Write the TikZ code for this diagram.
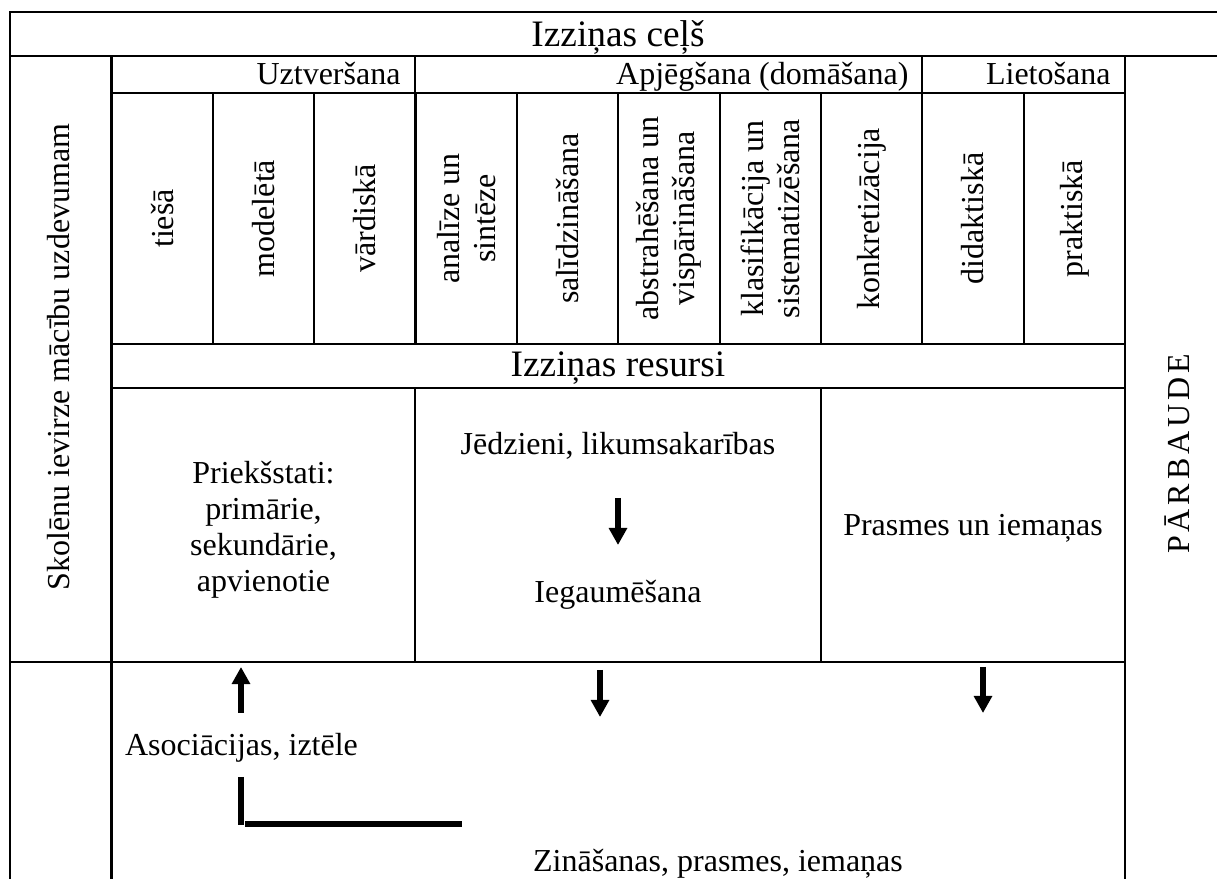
\documentclass[tikz,border=0pt]{standalone}
\usepackage{fontspec}
\setmainfont{Liberation Serif}
\usetikzlibrary{arrows.meta}

\begin{document}
\begin{tikzpicture}[x=0.375pt,y=-0.375pt,
    tabline/.style={line width=0.8pt},
    txt/.style={inner sep=0pt,font=\fontsize{12}{13.5}\selectfont,align=center},
    bigtxt/.style={inner sep=0pt,font=\fontsize{14}{16}\selectfont},
    downarrow/.style={line width=2.4pt,-{Triangle[width=6.6pt,length=6.4pt]}},
    barline/.style={line width=2.2pt}]
    \useasboundingbox (0,0) rectangle (1217,879);
    \draw [tabline] (1217,12) -- (10,12) -- (10,879);% Outer frame
    \draw [tabline] (10,56) -- (1217,56);
    \draw [tabline] (111.5,56) -- (111.5,879);
    \draw [tabline] (1125,56) -- (1125,879);
    \draw [tabline] (10,662) -- (1125,662);
    \foreach \y in {93,344,388}{% Rows of the inner table
        \draw [tabline] (111.5,\y) -- (1125,\y);
    }
    \foreach \x in {415,922}{% Header cells
        \draw [tabline] (\x,56) -- (\x,93);
    }
    \foreach \i in {1,...,9}{% Ten narrow columns
        \draw [tabline] ({111.5+101.35*\i},93) -- ({111.5+101.35*\i},344);
    }
    \foreach \x in {415,821}{% Resource cells
        \draw [tabline] (\x,388) -- (\x,662);
    }
    % Titles
    \node [bigtxt,anchor=base] (Title) at (618,46.5) {Izziņas ceļš};
    \node [txt,anchor=base east] (Uztv) at (401,85) {Uztveršana};
    \node [txt,anchor=base east] (Apjeg) at (909,85) {Apjēgšana (domāšana)};
    \node [txt,anchor=base east] (Lietos) at (1111,85) {Lietošana};
    \foreach \i/\lbl in {0/tiešā,1/modelētā,2/vārdiskā,3/{analīze un\\sintēze},4/salīdzināšana,5/{abstrahēšana un\\vispārināšana},6/{klasifikācija un\\sistematizēšana},7/konkretizācija,8/didaktiskā,9/praktiskā}{%
        \node [txt,rotate=90] (Col\i) at ({162.2+101.35*\i},218.5) {\lbl};
    }
    \node [bigtxt,anchor=base] (Resursi) at (618,377) {Izziņas resursi};
    \node [txt,rotate=90] (Ievirze) at (58.5,357) {Skolēnu ievirze mācību uzdevumam};
    \node [txt,rotate=90] (Parbaude) at (1177,454) {\addfontfeature{LetterSpace=12}PĀRBAUDE};
    % Resources
    \node [txt] (Prieks) at (263.5,530) {Priekšstati:\\primārie,\\sekundārie,\\apvienotie};
    \node [txt,anchor=base] (Jedz) at (618,455) {Jēdzieni, likumsakarības};
    \node [txt,anchor=base] (Iegaum) at (618,603) {Iegaumēšana};
    \node [txt,anchor=base] (Prasmes) at (973,536) {Prasmes un iemaņas};
    \node [txt,anchor=base] (Asoc) at (241.5,756) {Asociācijas, iztēle};
    \node [txt,anchor=base] (Zinas) at (718,871) {Zināšanas, prasmes, iemaņas};
    % Arrows
    \coordinate (JedzOut)  at (618,498);
    \coordinate (IegaumIn) at (618,545);
    \coordinate (AsocOut)  at (241,713);
    \coordinate (PrieksIn) at (241,667);
    \coordinate (IegaumOut) at (600,670);
    \coordinate (IegaumEnd) at (600,717);
    \coordinate (PrasmesOut) at (983,667);
    \coordinate (PrasmesEnd) at (983,713);
    \coordinate (LTop)    at (241,777);
    \coordinate (LCorner) at (241,825);
    \coordinate (LStart)  at (245,824);
    \coordinate (LEnd)    at (462,824);
    \draw [downarrow] (JedzOut) -- (IegaumIn);
    \draw [downarrow] (AsocOut) -- (PrieksIn);
    \draw [downarrow] (IegaumOut) -- (IegaumEnd);
    \draw [downarrow] (PrasmesOut) -- (PrasmesEnd);
    \draw [barline] (LTop) -- (LCorner);
    \draw [barline] (LStart) -- (LEnd);
\end{tikzpicture}
\end{document}
